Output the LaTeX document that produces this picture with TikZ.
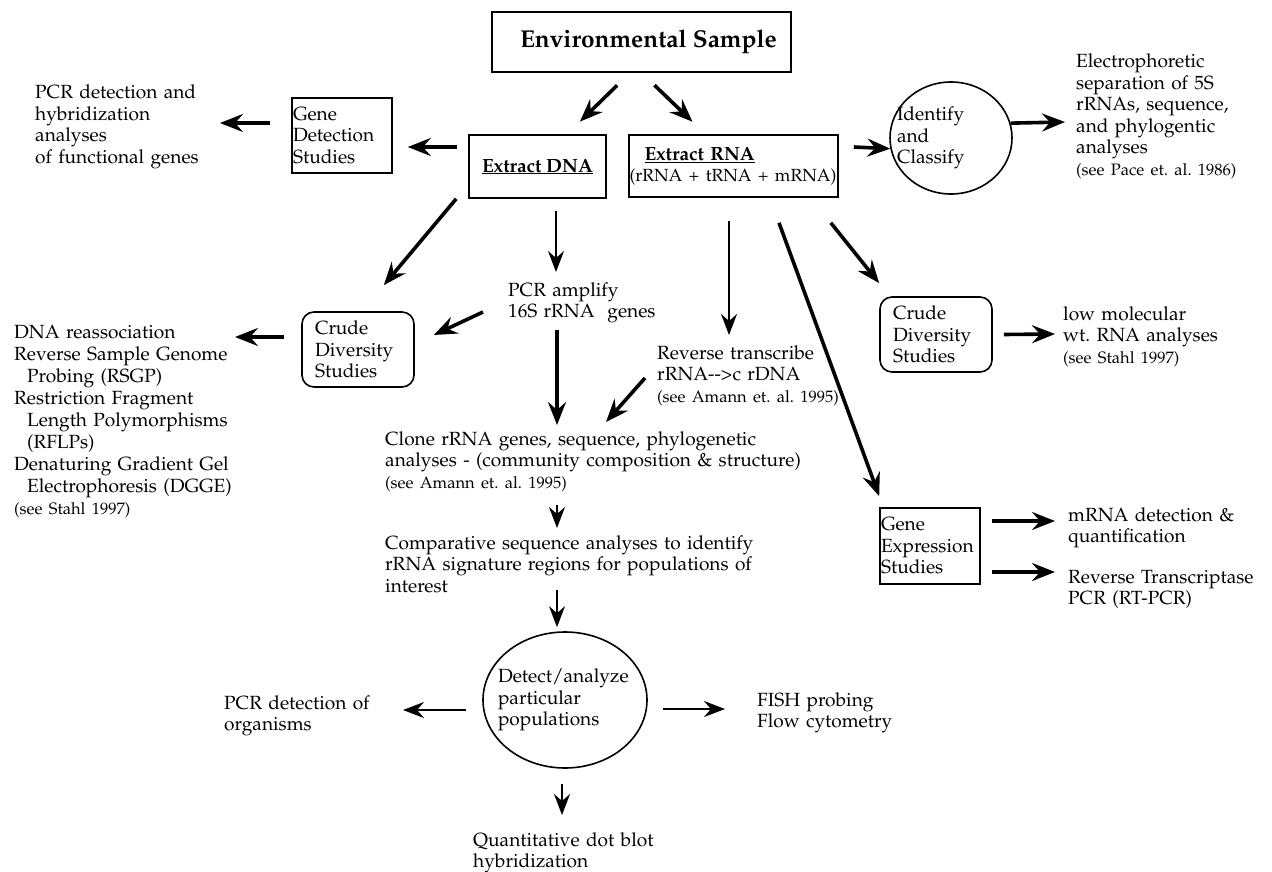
\documentclass[tikz,border=0pt]{standalone}
\usepackage[T1]{fontenc}
\renewcommand{\rmdefault}{ppl}
\usetikzlibrary{arrows.meta,shapes.geometric,calc}
\frenchspacing

\newcommand{\txt}{\fontsize{19.1}{21.5}\selectfont}
\newcommand{\smalltxt}{\fontsize{16.5}{19}\selectfont}

\tikzset{
  box/.style={draw, line width=1.6pt, inner sep=0pt, font=\txt},
  rbox/.style={box, rounded corners=12pt},
  oval/.style={draw, ellipse, line width=1.6pt, inner sep=0pt, font=\txt},
  note/.style={anchor=base west, align=left, inner sep=0pt, text width=440pt, font=\txt},
  fat/.style={-{Stealth[length=23pt,width=18pt,inset=8pt]}, line width=3.6pt},
  slim/.style={-{Stealth[length=21pt,width=16pt,inset=7pt]}, line width=2.2pt},
}

\begin{document}
\begin{tikzpicture}[x=1pt, y=-1pt]
  \useasboundingbox (0,0) rectangle (1272,872);

  % boxes and ovals
  \node[box, minimum width=299pt, minimum height=60pt] (env) at (641.5,42)
    {\fontsize{24.4}{28}\selectfont\bfseries\hspace*{14pt}Environmental Sample};
  \node[box, minimum width=137pt, minimum height=63pt] (dna) at (537.5,166.5)
    {\underline{\textbf{Extract DNA}}};
  \node[box, minimum width=209pt, minimum height=62pt, text width=208pt, inner xsep=0.5pt, align=left] (rna) at (733.5,166)
    {\hspace*{15pt}\underline{\textbf{Extract RNA}}\\{\fontsize{17.6}{20}\selectfont(rRNA + tRNA + mRNA)}};
  \node[box, minimum width=100pt, minimum height=75pt, text width=98pt, inner xsep=1pt, align=left] (gd) at (342,135.5)
    {Gene\\Detection\\Studies};
  \node[box, minimum width=100pt, minimum height=76pt, text width=98pt, inner xsep=1pt, align=left] (ge) at (930,546)
    {Gene\\Expression\\Studies};
  \node[rbox, minimum width=112pt, minimum height=75pt, text width=86pt, inner xsep=13pt, align=left] (crudeL) at (358,349.5)
    {Crude\\Diversity\\Studies};
  \node[rbox, minimum width=112pt, minimum height=75pt, text width=86pt, inner xsep=12pt, align=left] (crudeR) at (936,334.5)
    {Crude\\Diversity\\Studies};
  \node[oval, minimum width=122pt, minimum height=112pt] (idc) at (951,138)
    {\rlap{\hspace*{-54pt}\begin{tabular}{@{}l@{}}Identify\\and\\Classify\end{tabular}}};
  \node[oval, minimum width=164pt, minimum height=136pt] (detect) at (565,700)
    {\rlap{\hspace*{-67pt}\begin{tabular}{@{}l@{}}Detect/analyze\\particular\\populations\end{tabular}}};

  % free text
  \node[note] (pcrleft) at (35,99)
    {PCR detection and\\hybridization\\analyses\\of functional genes};
  \node[note] (electro) at (1076,68)
    {Electrophoretic\\separation of 5S\\rRNAs, sequence,\\and phylogentic\\analyses\\{\smalltxt(see Pace et. al. 1986)}};
  \node[note] (pcramp) at (508,296)
    {PCR amplify\\16S rRNA\ \ genes};
  \node[note, font=\fontsize{19.1}{22}\selectfont] (dnalist) at (14,338)
    {DNA reassociation\\
     Reverse Sample Genome\\
     \hspace*{13pt}Probing (RSGP)\\
     Restriction Fragment\\
     \hspace*{13pt}Length Polymorphisms\\
     \hspace*{13pt}(RFLPs)\\
     Denaturing Gradient Gel\\
     \hspace*{13pt}Electrophoresis (DGGE)\\
     {\smalltxt(see Stahl 1997)}};
  \node[note] (rt) at (657,359)
    {Reverse transcribe\\rRNA-{}-{}>c rDNA\\{\smalltxt(see Amann et. al. 1995)}};
  \node[note] (lowmol) at (1063,320)
    {low molecular\\wt. RNA analyses\\{\smalltxt(see Stahl 1997)}};
  \node[note] (clone) at (385,445)
    {Clone rRNA genes, sequence, phylogenetic\\analyses - (community composition \& structure)\\{\smalltxt(see Amann et. al. 1995)}};
  \node[note] (comp) at (385,549)
    {Comparative sequence analyses to identify\\rRNA signature regions for populations of\\interest};
  \node[note] (pcrorg) at (224,709) {PCR detection of\\organisms};
  \node[note] (fish) at (757,706) {FISH probing\\Flow cytometry};
  \node[note] (quant) at (473,846) {Quantitative dot blot\\hybridization};
  \node[note] (mrna) at (1068,521) {mRNA detection \&\\quantification};
  \node[note] (rtpcr) at (1068,583) {Reverse Transcriptase\\PCR (RT-PCR)};

  % arrows
  \draw[fat, shorten <=18pt, shorten >=18pt] ($(env.south)+(-11.5,0)$) -- ($(dna.north)+(29.5,0)$);
  \draw[fat, shorten <=18pt, shorten >=18pt] (env.south) -- ($(rna.north)+(-28,0)$);
  \draw[fat] ($(dna.west)+(-11,-19.5)$) -- ($(gd.east)+(15,11.5)$);
  \draw[fat] ($(gd.west)+(-21,-12.5)$) -- ($(pcrleft.base west)+(185,24)$);
  \draw[fat] ($(rna.east)+(15,-19)$) -- (idc.190);
  \draw[fat] (idc.14) -- ($(electro.base west)+(-11,54)$);
  \draw[fat] ($(dna.south west)+(-12,0)$) -- ($(crudeL.north east)+(-31,-26)$);
  \draw[slim] ($(dna.south)+(18.5,12)$) -- ($(pcramp.base west)+(48,-24)$);
  \draw[fat] ($(pcramp.base west)+(-25,16)$) -- ($(crudeL.east)+(19,-14.5)$);
  \draw[fat] ($(crudeL.west)+(-17,-12.5)$) -- ($(dnalist.base west)+(221,-1)$);
  \draw[fat] ($(pcramp.base west)+(49,34)$) -- ($(clone.base west)+(172,-20)$);
  \draw[fat] ($(rt.base west)+(-12,19)$) -- ($(clone.base west)+(221,-23)$);
  \draw[slim] ($(rna.south)+(-4.5,23)$) -- ($(rt.base west)+(72,-24)$);
  \draw[fat] ($(rna.south)+(45.5,25)$) -- ($(ge.north west)+(0,-11)$);
  \draw[fat] ($(rna.south east)+(-8,25)$) -- ($(crudeR.north west)+(0,-13)$);
  \draw[fat] ($(crudeR.east)+(11,0)$) -- ($(lowmol.base west)+(-8,14)$);
  \draw[slim] ($(clone.base west)+(172,60)$) -- ($(comp.base west)+(172,-21)$);
  \draw[slim] ($(comp.base west)+(172,41)$) -- ($(detect.north)+(-8,-4)$);
  \draw[slim] ($(detect.west)+(-16,10)$) -- ($(pcrorg.base west)+(179,1)$);
  \draw[slim] ($(detect.east)+(15,9)$) -- ($(fish.base west)+(-32,3)$);
  \draw[slim] ($(detect.south)+(-3,15)$) -- ($(quant.base west)+(89,-31)$);
  \draw[fat] ($(ge.east)+(11,-25)$) -- ($(mrna.base west)+(-13,0)$);
  \draw[fat] ($(ge.east)+(11,26)$) -- ($(rtpcr.base west)+(-13,-11)$);
\end{tikzpicture}
\end{document}
